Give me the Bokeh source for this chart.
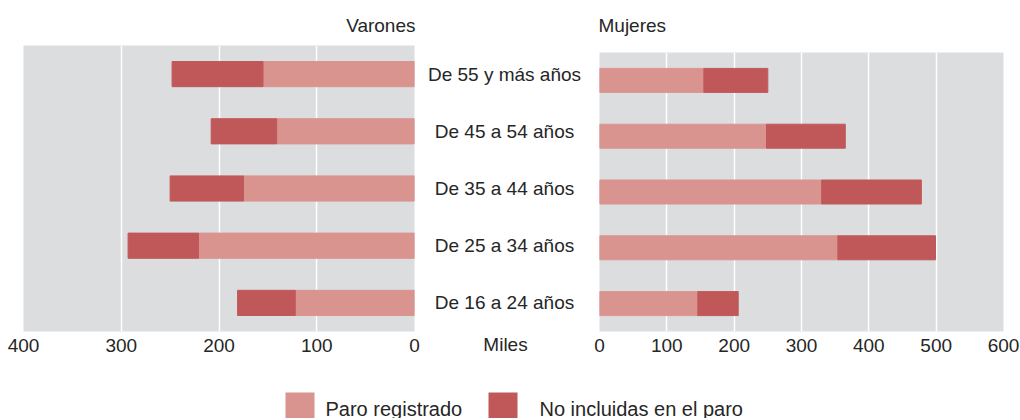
from bokeh.plotting import figure
from bokeh.models import Range1d, FactorRange, FixedTicker, ColumnDataSource, Spacer
from bokeh.layouts import column, row
from bokeh.embed import file_html
from bokeh.resources import INLINE
from bokeh.core.properties import value

# ---------------- data ----------------
age_groups = ["De 55 y más años", "De 45 a 54 años", "De 35 a 44 años",
              "De 25 a 34 años", "De 16 a 24 años"]
men_registered = [155, 141, 175, 221, 122]
men_not_included = [93, 67, 75, 72, 59]
women_registered = [155, 248, 330, 354, 146]
women_not_included = [95, 117, 148, 145, 60]
men_ticks = [0, 100, 200, 300, 400]
women_ticks = [0, 100, 200, 300, 400, 500, 600]
series_labels = ["Paro registrado", "No incluidas en el paro"]
panel_titles = ["Varones", "Mujeres"]
unit_label = "Miles"

# ---------------- style ----------------
LIGHT = "#da9490"
DARK = "#c0585a"
BG = "#dcdddf"
TXT = "#262626"
FONT = "Liberation Sans"
FS = "19px"
LEG_FS = "20px"

factors = list(reversed(age_groups))

# layout geometry (pixels)
LEFT_BORDER = 23
RIGHT_BORDER = 17
HEADER_H = 38
ROW_H = 337
LEGEND_H = 43
TOP_BORDER = 7
BOTTOM_BORDER = 44
STANDOFF = 7


def style_axis(ax, standoff=STANDOFF):
    ax.axis_line_color = None
    ax.major_tick_out = 0
    ax.major_tick_in = 0
    ax.minor_tick_out = 0
    ax.minor_tick_in = 0
    ax.major_label_standoff = standoff
    ax.major_label_text_font = FONT
    ax.major_label_text_font_size = FS
    ax.major_label_text_color = TXT


def deco_fig(height, y0, y1):
    # decorative strip; its ranges are in page pixels
    p = figure(width=1020, height=height,
               x_range=Range1d(LEFT_BORDER, 1020 - RIGHT_BORDER),
               y_range=Range1d(y1, y0),
               output_backend="svg", toolbar_location=None, title_location=None,
               x_axis_location=None, y_axis_location=None,
               min_border_left=LEFT_BORDER, min_border_right=RIGHT_BORDER,
               min_border_top=0, min_border_bottom=0)
    p.outline_line_color = None
    p.xgrid.visible = False
    p.ygrid.visible = False
    p.background_fill_color = "white"
    p.border_fill_color = "white"
    return p


def panel(x_range, regs, nots, ticks, width, mb_left, mb_right, height, bar_h):
    p = figure(width=width, height=height, x_range=x_range,
               y_range=FactorRange(factors=factors),
               output_backend="svg", toolbar_location=None, title_location=None,
               y_axis_location=None,
               min_border_left=mb_left, min_border_right=mb_right,
               min_border_top=TOP_BORDER, min_border_bottom=BOTTOM_BORDER)
    p.outline_line_color = None
    p.background_fill_color = BG
    p.border_fill_color = "white"
    src = ColumnDataSource(dict(cat=age_groups, reg=regs, noinc=nots))
    p.hbar_stack(["reg", "noinc"], y="cat", height=bar_h, color=[LIGHT, DARK],
                 source=src)
    p.ygrid.visible = False
    p.xgrid.ticker = FixedTicker(ticks=ticks[1:-1])
    p.xgrid.grid_line_color = "white"
    p.xgrid.grid_line_width = 1.5
    ax = p.xaxis[0]
    ax.ticker = FixedTicker(ticks=ticks)
    style_axis(ax)
    return p


# header with panel titles
header = deco_fig(HEADER_H, 0, HEADER_H)
header.text(x=[415], y=[24.5], text=[panel_titles[0]], text_align="right",
            text_baseline="middle", text_font=value(FONT), text_font_size=FS,
            text_color=TXT)
header.text(x=[598], y=[24.5], text=[panel_titles[1]], text_align="left",
            text_baseline="middle", text_font=value(FONT), text_font_size=FS,
            text_color=TXT)

# left panel (men), reversed axis
left = panel(Range1d(400, 0), men_registered, men_not_included, men_ticks,
             width=424, mb_left=LEFT_BORDER, mb_right=10, height=ROW_H, bar_h=0.44)

# middle: category labels + unit
mid = figure(width=168, height=ROW_H, x_range=Range1d(424, 592),
             y_range=left.y_range, output_backend="svg", toolbar_location=None,
             title_location=None, y_axis_location=None,
             min_border_left=0, min_border_right=0, min_border_top=TOP_BORDER,
             min_border_bottom=BOTTOM_BORDER)
mid.outline_line_color = None
mid.xgrid.visible = False
mid.ygrid.visible = False
mid.text(x=[504] * len(age_groups), y=age_groups, text=age_groups,
         text_align="center", text_baseline="middle",
         text_font=value(FONT), text_font_size=FS, text_color=TXT)
mid_ax = mid.xaxis[0]
mid_ax.ticker = FixedTicker(ticks=[505])
mid_ax.major_label_overrides = {505: unit_label}
style_axis(mid_ax, standoff=STANDOFF - 5)

# right panel (women), pushed down a little
right = panel(Range1d(0, 600), women_registered, women_not_included, women_ticks,
              width=428, mb_left=7, mb_right=RIGHT_BORDER, height=ROW_H - 7,
              bar_h=0.43)
right_col = column(Spacer(width=428, height=7), right)

# legend strip
leg = deco_fig(LEGEND_H, ROW_H + HEADER_H, ROW_H + HEADER_H + LEGEND_H)
leg.rect(x=[299.5, 502.5], y=[406, 406], width=29, height=28,
         fill_color=[LIGHT, DARK], line_color=None)
leg.text(x=[325, 539], y=[408, 408], text=series_labels, text_align="left",
         text_baseline="middle", text_font=value(FONT), text_font_size=LEG_FS,
         text_color=TXT)

layout = column(header, row(left, mid, right_col), leg)
open("out.html", "w").write(file_html(layout, INLINE))
